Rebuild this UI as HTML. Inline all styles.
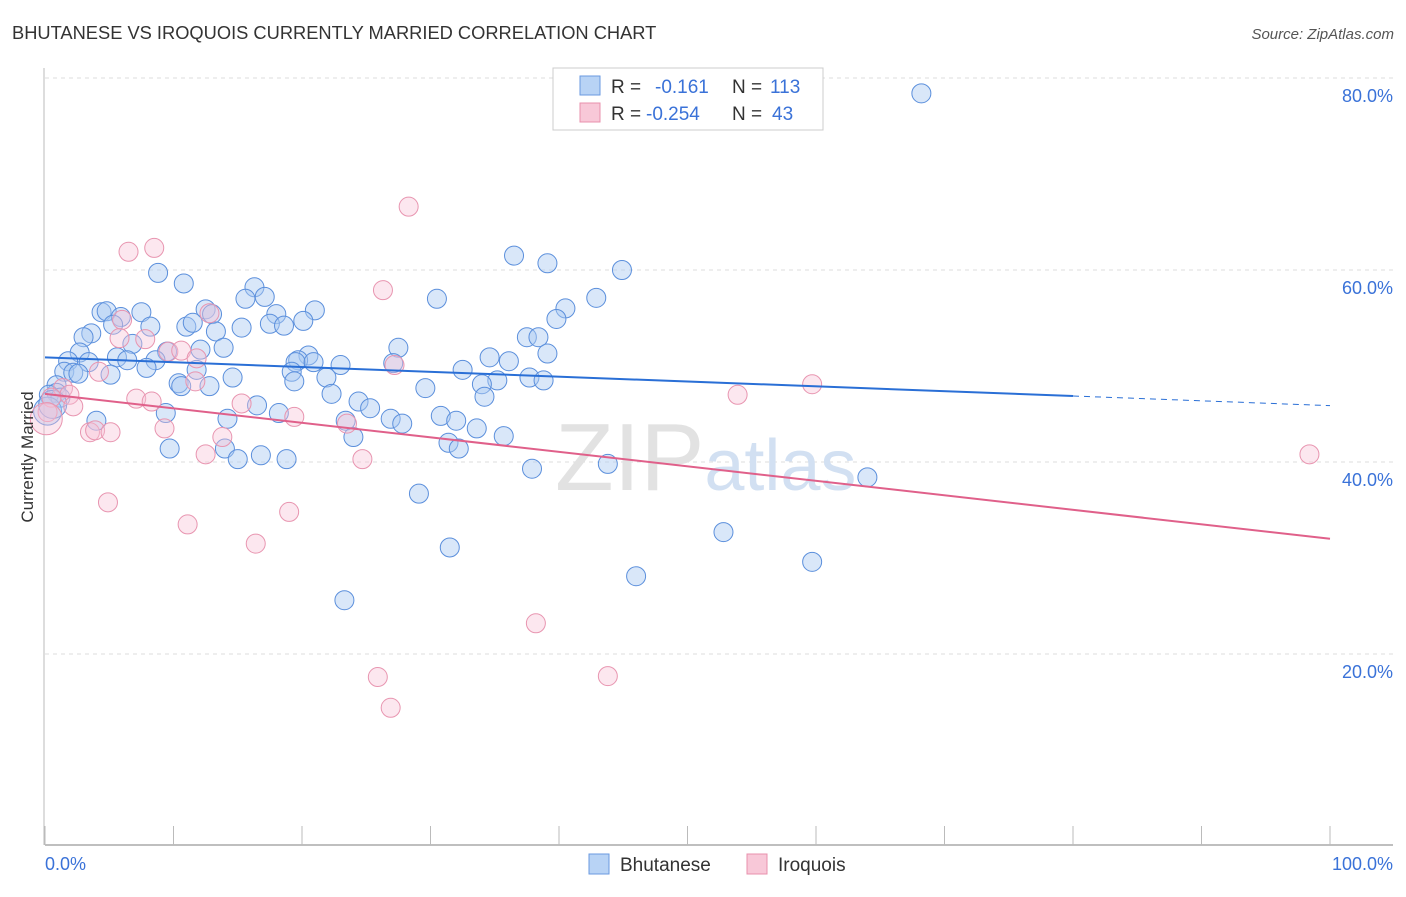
<!DOCTYPE html>
<html><head><meta charset="utf-8"><style>
body{margin:0;background:#fff;font-family:"Liberation Sans",sans-serif}
svg text{font-family:"Liberation Sans",sans-serif}
</style></head><body>
<svg id="chart" width="1406" height="892" viewBox="0 0 1406 892" xmlns="http://www.w3.org/2000/svg">
<text x="12" y="39" font-size="18.3" fill="#333">BHUTANESE VS IROQUOIS CURRENTLY MARRIED CORRELATION CHART</text>
<text x="1394" y="39" font-size="15" fill="#555" text-anchor="end" font-style="italic">Source: ZipAtlas.com</text>
<g id="grid"></g>
<text x="555" y="490" font-size="96" fill="#e2e2e2" font-family="Liberation Serif">ZIP<tspan fill="#d2e0f2" font-family="Liberation Sans" font-size="72">atlas</tspan></text>
<g id="marks"></g>
<text transform="translate(33,457) rotate(-90)" font-size="17" fill="#333" text-anchor="middle">Currently Married</text>
<g>
<rect x="553" y="68" width="270" height="62" fill="#fff" stroke="#ccc"/>
<rect x="580" y="76" width="20" height="19" fill="#b8d3f5" stroke="#6a9ae0"/>
<rect x="580" y="103" width="20" height="19" fill="#f8c8d8" stroke="#e890ac"/>
<text x="611" y="93" font-size="19" fill="#333">R = </text><text x="655" y="93" font-size="19" fill="#3a72d8">-0.161</text>
<text x="732" y="93" font-size="19" fill="#333">N = </text><text x="770" y="93" font-size="19" fill="#3a72d8">113</text>
<text x="611" y="120" font-size="19" fill="#333">R = </text><text x="646" y="120" font-size="19" fill="#3a72d8">-0.254</text>
<text x="732" y="120" font-size="19" fill="#333">N = </text><text x="772" y="120" font-size="19" fill="#3a72d8">43</text>
</g>
<g>
<rect x="589" y="854" width="20" height="20" fill="#b8d3f5" stroke="#6a9ae0"/>
<text x="620" y="871" font-size="19" fill="#333">Bhutanese</text>
<rect x="747" y="854" width="20" height="20" fill="#f8c8d8" stroke="#e890ac"/>
<text x="778" y="871" font-size="19" fill="#333">Iroquois</text>
</g>
</svg>
<script>
const yTicks=[20,40,60,80];
const yTickLabels=["20.0%","40.0%","60.0%","80.0%"];
const xTickVals=[0,10,20,30,40,50,60,70,80,90,100];
const xEndLabels=["0.0%","100.0%"];
const blueX=[68.2,36.5,39.1,44.9,8.8,10.8,16.3,17.1,15.6,30.5,42.9,4.4,4.8,7.5,12.5,13.0,21.0,18.0,5.9,40.5,39.8,20.1,11.0,11.5,15.3,8.2,17.5,18.6,5.3,3.6,13.3,3.0,37.5,38.4,27.5,6.8,13.9,2.7,12.1,9.5,20.5,34.6,39.1,5.6,6.4,8.6,1.8,19.7,36.1,19.5,20.9,23.0,27.1,7.9,3.4,1.5,2.2,2.6,5.1,11.8,32.5,19.2,14.6,21.9,19.4,35.2,37.7,38.8,10.4,10.6,12.8,29.6,0.9,0.9,34.0,22.3,34.2,0.3,1.2,24.4,16.5,25.3,9.4,18.2,30.8,32.0,26.9,27.8,4.0,14.2,23.4,33.6,24.0,35.7,31.4,32.2,9.7,14.0,16.8,15.0,18.8,43.8,37.9,64.0,29.1,31.5,52.8,46.0,59.7,23.3,0.2,0.6];
const blueY=[78.4,61.5,60.7,60.0,59.7,58.6,58.2,57.2,57.0,57.0,57.1,55.6,55.7,55.6,55.9,55.4,55.8,55.4,55.1,56.0,54.9,54.7,54.1,54.5,54.0,54.1,54.4,54.2,54.3,53.4,53.6,53.0,53.0,53.0,51.9,52.3,51.9,51.4,51.7,51.5,51.1,50.9,51.3,50.9,50.6,50.6,50.5,50.6,50.5,50.4,50.4,50.1,50.3,49.8,50.4,49.4,49.3,49.2,49.1,49.6,49.6,49.4,48.8,48.8,48.4,48.5,48.8,48.5,48.2,47.9,47.9,47.7,48.0,47.2,48.1,47.1,46.8,47.0,46.7,46.3,45.9,45.6,45.1,45.1,44.8,44.3,44.5,44.0,44.3,44.5,44.3,43.5,42.6,42.7,42.0,41.4,41.4,41.4,40.7,40.3,40.3,39.8,39.3,38.4,36.7,31.1,32.7,28.1,29.6,25.6,45.3,46.0];
const pinkX=[28.3,8.5,6.5,26.3,12.8,6.0,5.8,7.8,9.6,10.6,11.8,27.2,4.2,11.7,59.7,53.9,1.4,1.9,0.5,0.2,2.2,7.1,8.3,15.3,19.4,23.5,3.5,3.9,5.1,9.3,13.8,12.5,24.7,98.4,4.9,11.1,19.0,16.4,38.2,25.9,43.8,26.9,0.1];
const pinkY=[66.6,62.3,61.9,57.9,55.5,54.8,52.9,52.8,51.5,51.6,50.8,50.1,49.4,48.4,48.1,47.0,47.7,47.0,46.7,45.2,45.8,46.6,46.3,46.1,44.7,44.0,43.1,43.3,43.1,43.5,42.6,40.8,40.3,40.8,35.8,33.5,34.8,31.5,23.2,17.6,17.7,14.4,44.5];
const blueTrend=[50.9,-0.0503];
const pinkTrend=[47.1,-0.151];
const sx=v=>45+v*12.85, sy=v=>846-v*9.6;
const NS='http://www.w3.org/2000/svg';
function mk(tag,attrs,parent){const e=document.createElementNS(NS,tag);for(const k in attrs)e.setAttribute(k,attrs[k]);parent.appendChild(e);return e;}
const grid=document.getElementById('grid'), marks=document.getElementById('marks');
yTicks.forEach((t,i)=>{
 const l=mk('line',{x1:45,x2:1393,y1:sy(t),y2:sy(t),stroke:'#ddd','stroke-dasharray':'4,4'},grid);
 
 
 const tx=mk('text',{x:1393,y:sy(t)+24,'font-size':18,fill:'#3a72d8','text-anchor':'end'},grid);
 tx.textContent=yTickLabels[i];
 
 
});
const topG=mk('line',{x1:45,x2:1393,y1:78,y2:78,stroke:'#ddd','stroke-dasharray':'4,4'},grid);


const ax=mk('line',{x1:45,x2:1393,y1:845,y2:845,stroke:'#aaa','stroke-width':1.5},grid);


const ay=mk('line',{x1:44,x2:44,y1:68,y2:845,stroke:'#bbb'},grid);


xTickVals.forEach(v=>{
 const t=mk('line',{x1:sx(v),x2:sx(v),y1:826,y2:845,stroke:'#bbb'},grid);
 
 
});
xEndLabels.forEach((s,i)=>{
 const t=mk('text',{x:i?1393:45,y:870,'font-size':18,fill:'#3a72d8','text-anchor':i?'end':'start'},grid);
 t.textContent=s;
 
 
});
blueX.forEach((x,i)=>{
 const c=mk('circle',{cx:sx(x),cy:sy(blueY[i]),r:i>=blueX.length-2?14:9.5,fill:'rgba(170,202,242,0.45)',stroke:'#5b8fdc','stroke-width':1},marks);
 
 
});
pinkX.forEach((x,i)=>{
 const c=mk('circle',{cx:sx(x),cy:sy(pinkY[i]),r:i==pinkX.length-1?16:9.5,fill:'rgba(248,195,214,0.4)',stroke:'#e895b0','stroke-width':1},marks);
 
 
});
const bl=mk('line',{x1:sx(0),y1:sy(blueTrend[0]),x2:sx(80),y2:sy(blueTrend[0]+80*blueTrend[1]),stroke:'#2a6fd6','stroke-width':2},marks);


const bd=mk('line',{x1:sx(80),y1:sy(blueTrend[0]+80*blueTrend[1]),x2:sx(100),y2:sy(blueTrend[0]+100*blueTrend[1]),stroke:'#2a6fd6','stroke-width':1,'stroke-dasharray':'6,5'},marks);


const pl=mk('line',{x1:sx(0),y1:sy(pinkTrend[0]),x2:sx(100),y2:sy(pinkTrend[0]+100*pinkTrend[1]),stroke:'#e0608a','stroke-width':2},marks);


</script>
</body></html>
